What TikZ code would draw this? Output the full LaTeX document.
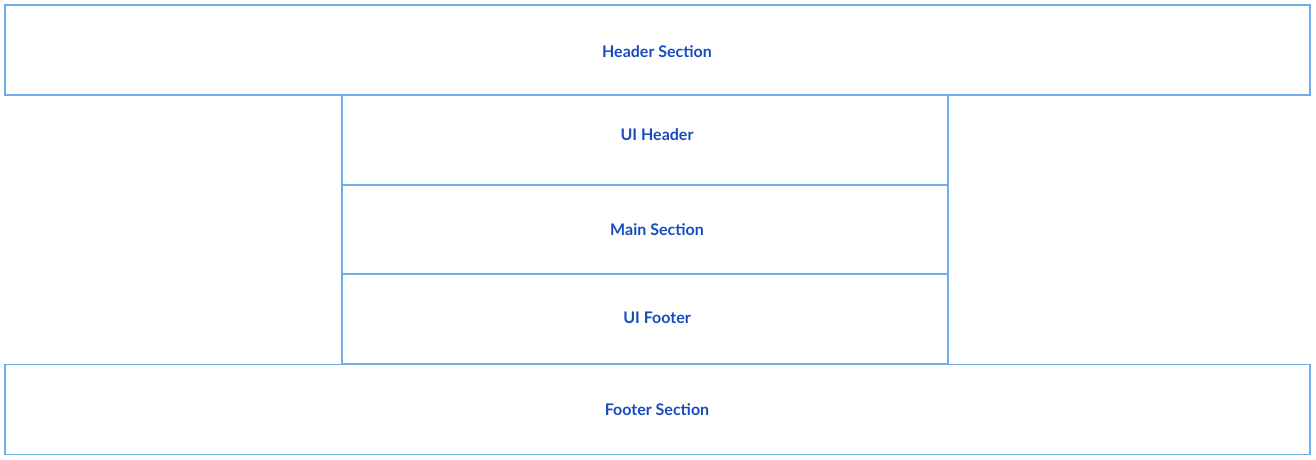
\documentclass[tikz,border=0pt]{standalone}
\usepackage{fontspec}
\setmainfont{Lato}
\usetikzlibrary{positioning}

\definecolor{boxline}{RGB}{112,172,232}
\definecolor{boxtext}{RGB}{24,76,190}

\tikzset{
    section/.style={draw=boxline, line width=1.6pt, minimum width=1305pt, minimum height=90pt, inner sep=0pt},
    uibox/.style={section, minimum width=606pt},
    caption/.style={font=\bfseries\fontsize{16}{19}\selectfont, text=boxtext, inner sep=0pt}
}

\begin{document}
\begin{tikzpicture}[x=1pt,y=-1pt]
    \useasboundingbox (0,0) rectangle (1316,459);

    \node[section](header) at (657.5,50){};
    \node[uibox](uiheader) at (645,140){};
    \node[uibox](main) at (645,229.5){};
    \node[uibox](uifooter) at (645,319){};
    \node[section](footer) at (657.5,409.5){};

    \node[caption](headertext) at (657,52){Header Section};
    \node[caption](uiheadertext) at (657,135){UI Header};
    \node[caption](maintext) at (657,230){Main Section};
    \node[caption](uifootertext) at (657,318){UI Footer};
    \node[caption](footertext) at (657,410){Footer Section};
\end{tikzpicture}
\end{document}
